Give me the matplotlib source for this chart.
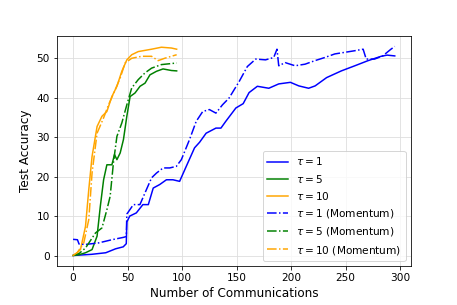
import matplotlib
matplotlib.use("Agg")
import matplotlib.pyplot as plt

tau1_x = [0, 17, 30, 39, 46, 48.8, 49.3, 52, 58, 64, 69, 73.5, 79.5, 85.6, 91.6, 97.7, 103.8, 111.4, 116, 122, 131, 135.6, 140, 149.3, 156, 161.4, 169, 179.5, 188.6, 199.3, 207, 216, 222, 232.5, 246, 258.4, 270.5, 282.5, 288, 295]
tau1_y = [0, 0.3, 0.7, 1.7, 2.2, 3.0, 8.5, 10, 10.8, 12.9, 12.9, 17.1, 18, 19.2, 19.2, 18.8, 22.6, 27.3, 28.7, 31, 32.3, 32.3, 34, 37.4, 38.5, 41.3, 42.9, 42.4, 43.5, 43.9, 43, 42.4, 43, 45.1, 46.8, 48.1, 49.4, 50.5, 50.8, 50.6]

tau5_x = [0, 5.5, 11.4, 17.4, 22, 25, 28, 31, 35.6, 38, 40.2, 43.2, 46.2, 49.3, 52.3, 56.8, 61.4, 66, 70.5, 76.5, 82.5, 90.2, 95]
tau5_y = [0, 0.2, 0.7, 1.5, 4.9, 12.5, 19.2, 23, 23, 25.6, 24.3, 26, 29.4, 35.3, 40.3, 41.2, 42.9, 43.7, 45.8, 46.7, 47.3, 46.9, 46.8]

tau10_x = [0, 3, 6.8, 11.4, 14.4, 17.4, 22, 26.5, 31, 35.6, 40.2, 44.7, 49.3, 53.8, 59.8, 72, 81, 90.2, 95]
tau10_y = [0, 0.5, 1.5, 7.4, 16.7, 25.1, 32.7, 35.3, 36.5, 40.3, 42.9, 46.7, 49.6, 50.9, 51.7, 52.3, 52.8, 52.6, 52.3]

tau1m_x = [0, 4, 5.5, 11.4, 23.5, 35.6, 46.2, 48.8, 49.3, 55.3, 61.3, 66, 72, 76.5, 82.6, 88.6, 94.7, 99.3, 106.8, 112.9, 118.9, 125, 131, 137, 143, 152.3, 159.8, 167.5, 176.5, 184, 187, 188.6, 194.5, 203.6, 212.7, 221.8, 230.9, 240, 249, 258, 266, 268.8, 276.5, 284, 291.5, 295]
tau1m_y = [4.1, 4.0, 2.9, 2.8, 3.2, 4.0, 4.6, 4.8, 10.5, 12.9, 12.9, 15.9, 19.7, 20.9, 22.2, 22.2, 22.6, 24.3, 29.4, 34, 36.5, 37, 36.1, 38.2, 39.9, 44.1, 47.9, 49.8, 49.6, 50.2, 52.3, 48.1, 48.9, 48.1, 48.5, 49.4, 50.2, 51.1, 51.5, 51.9, 52.3, 49.8, 49.8, 50.6, 52.3, 53.0]

tau5m_x = [0, 5.5, 11.4, 20.5, 26.5, 31, 34, 37, 40.2, 44.7, 49.3, 53.8, 59.8, 66, 72, 81, 95]
tau5m_y = [0, 0.5, 1.9, 5.7, 7, 11.6, 15, 23.5, 30.2, 33.6, 38.2, 42.5, 44.6, 46.3, 47.5, 48.4, 48.8]

tau10m_x = [0, 4, 9.8, 14.4, 17.4, 22, 28, 32.5, 38.6, 43.2, 47.7, 53.8, 62.9, 72, 78, 84, 95]
tau10m_y = [0, 0.8, 3.2, 9.1, 20.9, 31, 34.9, 38.2, 42, 45, 48.8, 50, 50.5, 50.5, 49.4, 50, 50.9]

labels = [r'$\tau=1$', r'$\tau=5$', r'$\tau=10$',
          r'$\tau=1$ (Momentum)', r'$\tau=5$ (Momentum)', r'$\tau=10$ (Momentum)']
colors = ['blue', 'green', 'orange']

dpi = 72
fig = plt.figure(figsize=(457 / dpi, 305 / dpi), dpi=dpi)
ax = fig.add_axes([0.1247, 0.128, 0.7743, 0.754])

series = [(tau1_x, tau1_y), (tau5_x, tau5_y), (tau10_x, tau10_y)]
mseries = [(tau1m_x, tau1m_y), (tau5m_x, tau5m_y), (tau10m_x, tau10m_y)]
for (x, y), c, l in zip(series, colors, labels[:3]):
    ax.plot(x, y, '-', color=c, lw=1.5, label=l)
for (x, y), c, l in zip(mseries, colors, labels[3:]):
    ax.plot(x, y, '-.', color=c, lw=1.5, label=l)

ax.grid(True, color='#dddddd', lw=0.8)
ax.set_axisbelow(True)
ax.tick_params(labelsize=10.5)
ax.set_xlabel('Number of Communications', fontsize=12)
ax.set_ylabel('Test Accuracy', fontsize=12)
ax.legend(loc='lower right', fontsize=10.5)
fig.savefig('out.png', dpi=dpi)
